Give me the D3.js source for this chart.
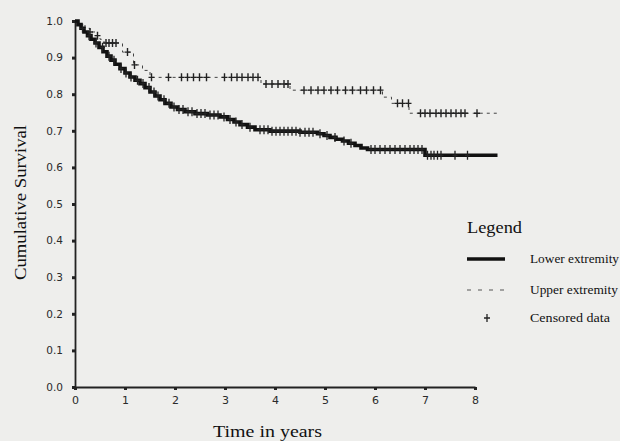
<!DOCTYPE html>
<html>
<head>
<meta charset="utf-8">
<script src="https://d3js.org/d3.v7.min.js"></script>
<style>
  html, body { margin: 0; padding: 0; background: #eeeeec; }
  svg { display: block; }
  .serif { font-family: "Liberation Serif", "Times New Roman", serif; fill: #111; }
  .tick text { font-family: "DejaVu Sans", sans-serif; font-size: 10.5px; fill: #2a2a2a; }
</style>
</head>
<body>
<div id="chart"></div>
<script>

// Kaplan-Meier steps
var lowerTimes = [0, 0.06, 0.12, 0.18, 0.25, 0.32, 0.4, 0.48, 0.56, 0.64, 0.72, 0.8, 0.9, 1.0, 1.1, 1.2, 1.3, 1.4, 1.5, 1.6, 1.7, 1.8, 1.92, 2.05, 2.2, 2.4, 2.65, 2.9, 3.05, 3.18, 3.3, 3.45, 3.6, 3.9, 4.5, 4.85, 4.98, 5.1, 5.22, 5.35, 5.47, 5.6, 5.72, 5.85, 7.0]
var lowerSurv  = [1.0, 0.99, 0.98, 0.97, 0.96, 0.95, 0.94, 0.928, 0.916, 0.904, 0.893, 0.882, 0.87, 0.858, 0.847, 0.838, 0.829, 0.818, 0.806, 0.795, 0.785, 0.775, 0.765, 0.758, 0.752, 0.747, 0.743, 0.738, 0.731, 0.724, 0.717, 0.71, 0.703, 0.699, 0.696, 0.692, 0.687, 0.682, 0.677, 0.672, 0.666, 0.66, 0.653, 0.649, 0.633]
var lowerEnd = 8.45

var upperTimes = [0, 0.1, 0.2, 0.3, 0.4, 0.5, 0.58, 0.95, 1.17, 1.35, 1.5, 3.72, 4.3, 6.15, 6.33, 6.68]
var upperSurv  = [1.0, 0.99, 0.98, 0.97, 0.96, 0.95, 0.94, 0.915, 0.88, 0.865, 0.846, 0.828, 0.811, 0.792, 0.775, 0.748]
var upperEnd = 8.45

// censored observations (years)
var lowerCensored = [0.15, 0.28, 0.42, 0.55, 0.68, 0.78, 0.92, 1.02, 1.12, 1.25, 1.36, 1.48, 1.58, 1.66, 1.78, 1.88, 1.98, 2.08, 2.16, 2.26, 2.34, 2.44, 2.52, 2.6, 2.7, 2.78, 2.86, 2.98, 3.1, 3.22, 3.34, 3.5, 3.7, 3.78, 3.86, 3.94, 4.02, 4.1, 4.18, 4.26, 4.34, 4.42, 4.5, 4.6, 4.68, 4.76, 4.9, 5.04, 5.2, 5.38, 5.52, 5.92, 6.0, 6.1, 6.2, 6.3, 6.4, 6.5, 6.6, 6.7, 6.78, 6.86, 6.94, 7.05, 7.12, 7.18, 7.25, 7.32, 7.6, 7.85]
var upperCensored = [0.3, 0.45, 0.62, 0.68, 0.75, 0.82, 1.05, 1.19, 1.53, 1.87, 2.13, 2.25, 2.37, 2.49, 2.63, 2.99, 3.13, 3.24, 3.34, 3.46, 3.56, 3.66, 3.82, 3.94, 4.06, 4.18, 4.26, 4.58, 4.72, 4.86, 4.98, 5.12, 5.25, 5.41, 5.55, 5.71, 5.83, 5.97, 6.11, 6.45, 6.55, 6.67, 6.91, 7.0, 7.1, 7.22, 7.32, 7.42, 7.52, 7.62, 7.72, 7.8, 8.04]

var xTicks = [0, 1, 2, 3, 4, 5, 6, 7, 8]
var yTicks = [0, 0.1, 0.2, 0.3, 0.4, 0.5, 0.6, 0.7, 0.8, 0.9, 1.0]

var legendItems = ["Lower extremity", "Upper extremity", "Censored data"]

var width = 620, height = 441

var svg = d3.select("#chart").append("svg")
    .attr("width", width)
    .attr("height", height)

svg.append("rect")
    .attr("width", width)
    .attr("height", height)
    .attr("fill", "#eeeeec")

var x = d3.scaleLinear().domain([0, 8]).range([75, 475])
var y = d3.scaleLinear().domain([0, 1]).range([387, 21])

// survival at time t for a step curve
function survAt(times, surv, t) {
    var i = d3.bisectRight(times, t) - 1
    return surv[Math.max(i, 0)]
}

function stepPoints(times, surv, end) {
    var pts = times.map(function(t, i) { return [t, surv[i]] })
    pts.push([end, surv[surv.length - 1]])
    return pts
}

var line = d3.line()
    .x(function(d) { return x(d[0]) })
    .y(function(d) { return y(d[1]) })
    .curve(d3.curveStepAfter)

// axes
var yAxis = svg.append("g")
    .attr("transform", "translate(" + x(0) + ",0)")
    .call(d3.axisLeft(y).tickValues(yTicks).tickFormat(d3.format(".1f")).tickSize(3).tickSizeOuter(0).tickPadding(9))

var xAxis = svg.append("g")
    .attr("transform", "translate(0," + y(0) + ")")
    .call(d3.axisBottom(x).tickValues(xTicks).tickSize(3).tickSizeOuter(0).tickPadding(6))

svg.selectAll(".domain").style("stroke", "#222").style("stroke-width", 1.8)
svg.selectAll(".tick line").style("stroke", "#222").style("stroke-width", 3)
xAxis.selectAll(".tick text").style("font-size", "11px")

// curves
svg.append("path")
    .attr("d", line(stepPoints(upperTimes, upperSurv, upperEnd)))
    .style("fill", "none")
    .style("stroke", "#444")
    .style("stroke-width", 1)
    .style("stroke-dasharray", "3,4")

svg.append("path")
    .attr("d", line(stepPoints(lowerTimes, lowerSurv, lowerEnd)))
    .style("fill", "none")
    .style("stroke", "#111")
    .style("stroke-width", 3.6)

function plusPath(cx, cy, w, h) {
    return "M" + (cx - w / 2) + "," + cy + "H" + (cx + w / 2) +
           "M" + cx + "," + (cy - h / 2) + "V" + (cy + h / 2)
}

svg.append("g").selectAll("path")
    .data(upperCensored)
    .enter()
    .append("path")
    .attr("d", function(d) { return plusPath(x(d), y(survAt(upperTimes, upperSurv, d)), 6, 8) })
    .style("stroke", "#222")
    .style("stroke-width", 1.4)

svg.append("g").selectAll("path")
    .data(lowerCensored)
    .enter()
    .append("path")
    .attr("d", function(d) { return plusPath(x(d), y(survAt(lowerTimes, lowerSurv, d)), 5, 9) })
    .style("stroke", "#222")
    .style("stroke-width", 1.3)

// axis titles
svg.append("text")
    .attr("class", "serif")
    .attr("transform", "translate(26,202.5) rotate(-90)")
    .attr("text-anchor", "middle")
    .attr("textLength", 155)
    .attr("lengthAdjust", "spacingAndGlyphs")
    .style("font-size", "16px")
    .text("Cumulative Survival")

svg.append("text")
    .attr("class", "serif")
    .attr("x", 267.5)
    .attr("y", 437)
    .attr("text-anchor", "middle")
    .attr("textLength", 109)
    .attr("lengthAdjust", "spacingAndGlyphs")
    .style("font-size", "16px")
    .text("Time in years")

// legend
var legend = svg.append("g")

legend.append("text")
    .attr("class", "serif")
    .attr("x", 467)
    .attr("y", 233)
    .attr("textLength", 55)
    .attr("lengthAdjust", "spacingAndGlyphs")
    .style("font-size", "17px")
    .text("Legend")

var rowY = [259, 290, 318]

legend.append("line")
    .attr("x1", 467).attr("x2", 505)
    .attr("y1", rowY[0]).attr("y2", rowY[0])
    .style("stroke", "#111")
    .style("stroke-width", 3.6)

legend.append("line")
    .attr("x1", 467).attr("x2", 505)
    .attr("y1", rowY[1]).attr("y2", rowY[1])
    .style("stroke", "#555")
    .style("stroke-width", 1)
    .style("stroke-dasharray", "4,7")

legend.append("path")
    .attr("d", plusPath(487, rowY[2], 6, 8))
    .style("stroke", "#222")
    .style("stroke-width", 1.3)

var legendWidths = [89, 88, 80]

legend.selectAll("text.item")
    .data(legendItems)
    .enter()
    .append("text")
    .attr("class", "serif item")
    .attr("x", 530)
    .attr("y", function(d, i) { return rowY[i] + 4 })
    .attr("textLength", function(d, i) { return legendWidths[i] })
    .attr("lengthAdjust", "spacingAndGlyphs")
    .style("font-size", "12px")
    .text(function(d) { return d })

</script>
</body>
</html>
